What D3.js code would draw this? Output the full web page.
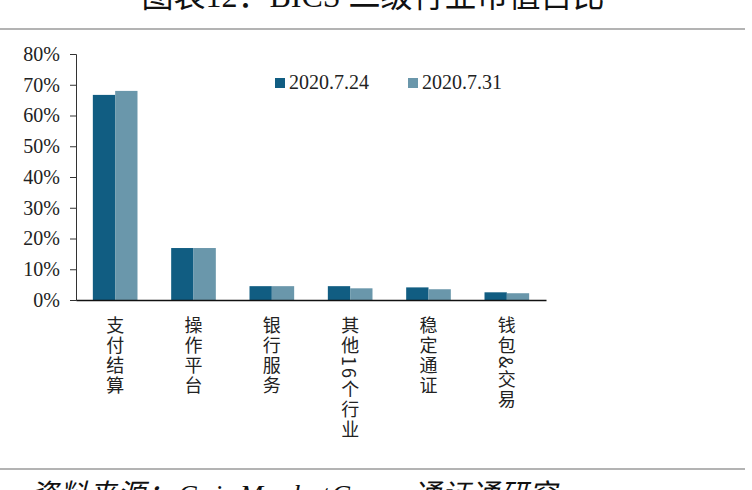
<!DOCTYPE html>
<html>
<head>
<meta charset="utf-8">
<script src="https://cdn.jsdelivr.net/npm/d3@7"></script>
<style>
  html, body { margin: 0; padding: 0; background: #fff; }
  svg { display: block; }
</style>
</head>
<body>
<svg id="chart" width="752" height="490"></svg>
<script>
const categories = ["支付结算", "操作平台", "银行服务", "其他16个行业", "稳定通证", "钱包&交易"];
const seriesNames = ["2020.7.24", "2020.7.31"];
const values0724 = [0.667, 0.169, 0.045, 0.045, 0.041, 0.025];
const values0731 = [0.680, 0.169, 0.045, 0.038, 0.035, 0.022];
const yTicks = [0, 0.1, 0.2, 0.3, 0.4, 0.5, 0.6, 0.7, 0.8];
const colors = ["#115d82", "#6a97ab"];
const titleText = "图表12：BICS 二级行业市值占比";
const sourceParts = ["资料来源：", "CoinMarketCap", "，通证通研究"];

const svg = d3.select("#chart");
const serif = "'Liberation Serif', 'Times New Roman', 'Noto Sans CJK SC', serif";
const cjk = "'Noto Sans CJK SC', sans-serif";

// title (partly cut at top, as in the reference)
svg.append("text")
  .attr("x", 373).attr("y", 7)
  .attr("text-anchor", "middle")
  .attr("font-family", serif)
  .attr("font-size", 32)
  .attr("fill", "#111")
  .text(titleText);

// top & bottom rules
svg.append("line").attr("x1", 0).attr("x2", 745).attr("y1", 29).attr("y2", 29)
  .attr("stroke", "#b3b3b3").attr("stroke-width", 2);
svg.append("line").attr("x1", 0).attr("x2", 745).attr("y1", 469).attr("y2", 469)
  .attr("stroke", "#b3b3b3").attr("stroke-width", 2);

// source (partly cut at bottom, as in the reference)
const src = svg.append("text")
  .attr("x", 30).attr("y", 504)
  .attr("font-family", serif)
  .attr("font-style", "italic")
  .attr("font-size", 28)
  .attr("fill", "#111");
src.append("tspan").attr("letter-spacing", 1).text(sourceParts[0]);
src.append("tspan").attr("dx", 3).attr("letter-spacing", 1.8).text(sourceParts[1]);
src.append("tspan").attr("letter-spacing", 1).text(sourceParts[2]);

const x0 = d3.scaleBand().domain(categories).range([76, 546])
  .paddingInner(0.43).paddingOuter(0.215);
const x1 = d3.scaleBand().domain(seriesNames).range([0, x0.bandwidth()]);
const y = d3.scaleLinear().domain([0, 0.8]).range([300, 54]);

// bars
const data = categories.map((c, i) => ({ c, v: [values0724[i], values0731[i]] }));
const g = svg.append("g");
const groups = g.selectAll("g.cat").data(data).join("g")
  .attr("transform", d => `translate(${x0(d.c)},0)`);
groups.selectAll("rect").data(d => d.v.map((v, j) => ({ s: seriesNames[j], v, j })))
  .join("rect")
  .attr("x", d => x1(d.s))
  .attr("width", x1.bandwidth())
  .attr("y", d => y(d.v))
  .attr("height", d => y(0) - y(d.v))
  .attr("fill", d => colors[d.j]);

// y axis
const yAxis = d3.axisLeft(y).tickValues(yTicks).tickFormat(d3.format(".0%"))
  .tickSizeOuter(0).tickSize(6).tickPadding(10);
const ya = svg.append("g").attr("transform", "translate(76,0)").call(yAxis);
ya.selectAll("text").attr("font-family", serif).attr("font-size", 20).attr("fill", "#222");
ya.selectAll("line").attr("stroke", "#333");
ya.select(".domain").attr("stroke", "#333");

// x axis
const xAxis = d3.axisBottom(x0).tickSize(0).tickSizeOuter(0).tickFormat("");
const xa = svg.append("g").attr("transform", "translate(0,300)").call(xAxis);
xa.select(".domain").attr("stroke", "#111").attr("stroke-width", 1.3);

// vertical category labels
svg.append("g").selectAll("text").data(categories).join("text")
  .attr("x", d => x0(d) + x0.bandwidth() / 2)
  .attr("y", 316)
  .attr("font-family", cjk)
  .attr("font-size", 18)
  .attr("letter-spacing", 2)
  .attr("fill", "#222")
  .style("writing-mode", "vertical-rl")
  .style("text-orientation", "mixed")
  .text(d => d);

// legend
const legend = svg.append("g");
const legX = [275, 408];
seriesNames.forEach((s, i) => {
  legend.append("rect").attr("x", legX[i]).attr("y", 78).attr("width", 10).attr("height", 10)
    .attr("fill", colors[i]);
  legend.append("text").attr("x", legX[i] + 14).attr("y", 89)
    .attr("font-family", serif).attr("font-size", 20).attr("fill", "#222")
    .text(s);
});
</script>
</body>
</html>
